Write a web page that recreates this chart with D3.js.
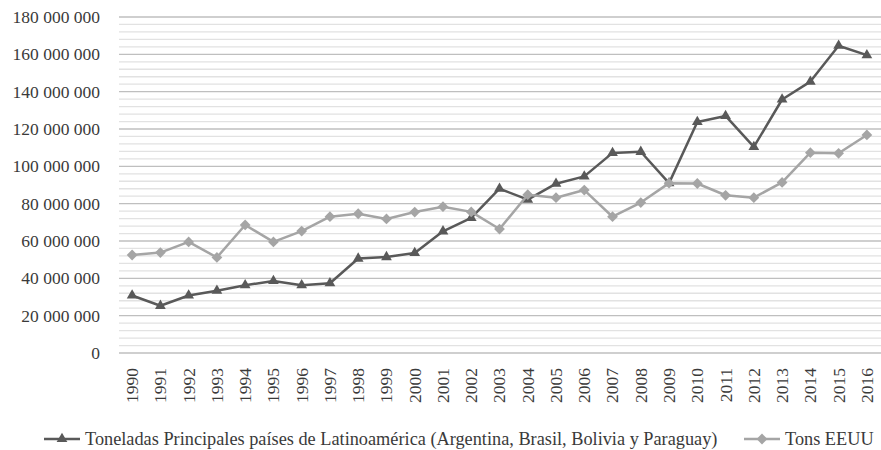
<!doctype html>
<html>
  <head>
    <meta charset="utf-8">
    <script src="https://cdnjs.cloudflare.com/ajax/libs/d3/7.8.5/d3.min.js"></script>
    <style>
      body { margin: 0; background: #fff; }
      text { font-family: "Liberation Serif", "DejaVu Serif", serif; fill: #3a3a3a; }
      line.major { stroke: #bfbfbf; stroke-width: 1.3; }
      line.minor { stroke: #e2e2e2; stroke-width: 1.3; }
    </style>
  </head>
  <body>
    <svg width="881" height="450"></svg>
    <script>
      // data
      var years = [1990, 1991, 1992, 1993, 1994, 1995, 1996, 1997, 1998, 1999,
                   2000, 2001, 2002, 2003, 2004, 2005, 2006, 2007, 2008, 2009,
                   2010, 2011, 2012, 2013, 2014, 2015, 2016];
      var latam = [30.8, 25.3, 30.8, 33.4, 36.3, 38.6, 36.3, 37.4, 50.6, 51.4,
                   53.6, 65.2, 72.4, 88.0, 82.2, 90.7, 94.6, 107.2, 107.8, 91.0,
                   123.8, 127.0, 110.4, 135.8, 145.4, 164.6, 159.6];
      var eeuu = [52.5, 53.8, 59.5, 51.2, 68.6, 59.5, 65.3, 73.0, 74.6, 71.8,
                  75.5, 78.4, 75.6, 66.4, 84.8, 83.2, 87.3, 73.0, 80.6, 91.0,
                  90.8, 84.5, 83.2, 91.4, 107.3, 107.0, 116.8];
      var yTicks = [0, 20, 40, 60, 80, 100, 120, 140, 160, 180];
      var seriesNames = ["Toneladas Principales países de Latinoamérica (Argentina, Brasil, Bolivia y Paraguay)", "Tons EEUU"];

      var svg = d3.select("svg");
      var plotL = 118, plotR = 881, plotT = 17, plotB = 353;

      var x = d3.scaleBand().domain(years).range([plotL, plotR]);
      var y = d3.scaleLinear().domain([0, 180e6]).range([plotB, plotT]);

      var fmt = function(v) { return d3.format(",")(v).replace(/,/g, " "); };

      // minor grid every 4 000 000
      var minor = d3.range(0, 180e6 + 1, 4e6).filter(function(v) { return v % 20e6 !== 0; });
      svg.append("g").selectAll("line").data(minor).enter().append("line")
        .attr("class", "minor")
        .attr("x1", plotL + 1).attr("x2", plotR)
        .attr("y1", function(d) { return y(d); }).attr("y2", function(d) { return y(d); });

      svg.append("g").selectAll("line").data(yTicks).enter().append("line")
        .attr("class", "major")
        .attr("x1", plotL + 1).attr("x2", plotR)
        .attr("y1", function(d) { return y(d * 1e6); }).attr("y2", function(d) { return y(d * 1e6); });

      // y labels
      svg.append("g").selectAll("text").data(yTicks).enter().append("text")
        .attr("x", 100).attr("y", function(d) { return y(d * 1e6); })
        .attr("dy", "0.34em")
        .attr("text-anchor", "end")
        .style("font-size", "17.5px")
        .text(function(d) { return fmt(d * 1e6); });

      // x labels, rotated
      svg.append("g").selectAll("text").data(years).enter().append("text")
        .attr("transform", function(d) {
          return "translate(" + (x(d) + x.bandwidth() / 2) + ",368) rotate(-90)";
        })
        .attr("dy", "0.34em")
        .attr("text-anchor", "end")
        .style("font-size", "17.5px")
        .text(function(d) { return d; });

      var cx = function(i) { return x(years[i]) + x.bandwidth() / 2; };
      var line = d3.line()
        .x(function(d, i) { return cx(i); })
        .y(function(d) { return y(d * 1e6); });

      var tri = d3.symbol().type(d3.symbolTriangle).size(50);
      var dia = d3.symbol().type(d3.symbolSquare).size(58);

      function drawSeries(vals, color, kind) {
        svg.append("path").datum(vals)
          .attr("d", line)
          .attr("fill", "none")
          .attr("stroke", color)
          .attr("stroke-width", 2.5)
          .attr("stroke-linejoin", "round");
        svg.append("g").selectAll("path").data(vals).enter().append("path")
          .attr("d", kind === "tri" ? tri : dia)
          .attr("fill", color)
          .attr("transform", function(d, i) {
            return "translate(" + cx(i) + "," + y(d * 1e6) + ")" + (kind === "tri" ? "" : " rotate(45)");
          });
      }
      drawSeries(latam, "#595959", "tri");
      drawSeries(eeuu, "#a5a5a5", "dia");

      // legend
      var legendY = 439;
      var items = [
        { name: seriesNames[0], color: "#595959", kind: "tri", x0: 44 },
        { name: seriesNames[1], color: "#a5a5a5", kind: "dia", x0: 744 }
      ];
      var lg = svg.append("g").selectAll("g").data(items).enter().append("g");
      lg.append("line")
        .attr("x1", function(d) { return d.x0; })
        .attr("x2", function(d) { return d.x0 + 36; })
        .attr("y1", legendY).attr("y2", legendY)
        .attr("stroke", function(d) { return d.color; })
        .attr("stroke-width", 2.5);
      lg.append("path")
        .attr("d", function(d) { return d.kind === "tri" ? tri() : dia(); })
        .attr("fill", function(d) { return d.color; })
        .attr("transform", function(d) {
          return "translate(" + (d.x0 + 18) + "," + legendY + ")" + (d.kind === "tri" ? "" : " rotate(45)");
        });
      lg.append("text")
        .attr("x", function(d) { return d.x0 + 41; })
        .attr("y", legendY)
        .attr("dy", "0.34em")
        .style("font-size", "18.3px")
        .text(function(d) { return d.name; });
    </script>
  </body>
</html>
